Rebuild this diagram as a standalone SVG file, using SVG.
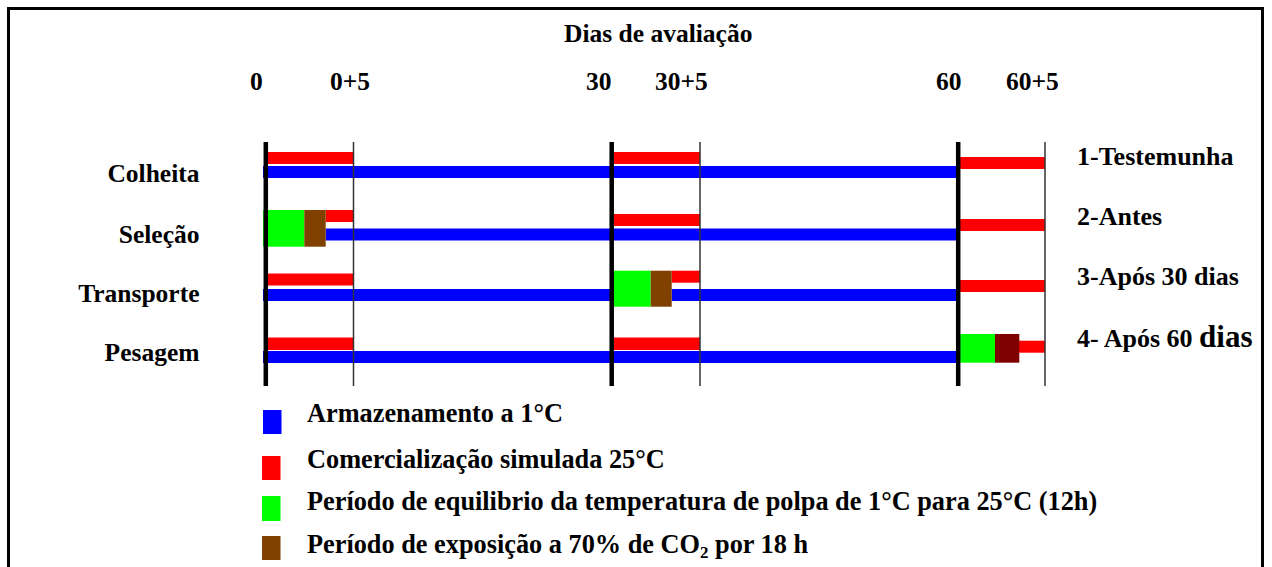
<svg xmlns="http://www.w3.org/2000/svg" width="1272" height="567" viewBox="0 0 1272 567">
<style>
text{font-family:"Liberation Serif","Times New Roman",serif;font-weight:bold;fill:#000}
.h{font-size:25.5px}
.l{font-size:25.5px;text-anchor:end}
.r{font-size:26px}
.g{font-size:26.3px}
.thick{stroke:#000;stroke-width:4.5}
.thin{stroke:#333;stroke-width:1.5}
.b{fill:#0000ff}
.rd{fill:#ff0000}
.gr{fill:#00ff00}
.br{fill:#804000}
.dr{fill:#7f0000}
</style>
<rect x="8.5" y="8.5" width="1254" height="600" fill="#fff" stroke="#000" stroke-width="3"/>
<g id="header">
<text class="h" x="564" y="42">Dias de avaliação</text>
<text class="h" x="250" y="90">0</text>
<text class="h" x="330" y="90">0+5</text>
<text class="h" x="586" y="90">30</text>
<text class="h" x="655" y="90">30+5</text>
<text class="h" x="936" y="90">60</text>
<text class="h" x="1006" y="90">60+5</text>
</g>
<g id="row-labels">
<text class="l" x="199.5" y="182">Colheita</text>
<text class="l" x="199.5" y="243">Seleção</text>
<text class="l" x="199.5" y="302">Transporte</text>
<text class="l" x="199.5" y="361">Pesagem</text>
</g>
<g id="treatment-labels">
<text class="r" x="1077" y="165">1-Testemunha</text>
<text class="r" x="1077" y="225">2-Antes</text>
<text class="r" x="1077" y="285">3-Após 30 dias</text>
<text class="r" x="1077" y="347">4- Após 60 <tspan font-size="31">dias</tspan></text>
</g>
<g id="row1">
<rect class="rd" x="268" y="152" width="85" height="12"/>
<rect class="rd" x="614" y="152" width="86" height="12"/>
<rect class="rd" x="960" y="157" width="85" height="12"/>
<rect class="b" x="263" y="166" width="695" height="12"/>
</g>
<g id="row2">
<rect class="rd" x="325.7" y="210" width="27.3" height="12"/>
<rect class="b" x="325.7" y="228.5" width="632.3" height="12"/>
<rect class="gr" x="263" y="210" width="41.3" height="36.7"/>
<rect class="br" x="304.3" y="210" width="21.4" height="36.7"/>
<rect class="rd" x="614" y="214" width="86" height="12"/>
<rect class="rd" x="960" y="219" width="85" height="12"/>
</g>
<g id="row3">
<rect class="rd" x="268" y="273.5" width="85" height="12"/>
<rect class="b" x="263" y="289" width="349" height="12"/>
<rect class="rd" x="671.7" y="270.7" width="28.3" height="12"/>
<rect class="b" x="671.7" y="289" width="286.3" height="12"/>
<rect class="gr" x="612" y="270.7" width="38.7" height="36"/>
<rect class="br" x="650.7" y="270.7" width="21" height="36"/>
<rect class="rd" x="960" y="280" width="85" height="12"/>
</g>
<g id="row4">
<rect class="rd" x="268" y="337.5" width="85" height="12.5"/>
<rect class="rd" x="614" y="337.5" width="86" height="12.5"/>
<rect class="b" x="263" y="351" width="695" height="12"/>
<rect class="rd" x="1019" y="340.7" width="26" height="12"/>
<rect class="gr" x="959" y="334" width="36" height="28.7"/>
<rect class="dr" x="995" y="334" width="24.3" height="28.7"/>
</g>
<g id="connectors">
<line class="thick" x1="265.8" y1="142" x2="265.8" y2="386"/>
<line class="thin" x1="353.5" y1="142" x2="353.5" y2="386"/>
<line class="thick" x1="611.7" y1="142" x2="611.7" y2="386"/>
<line class="thin" x1="700" y1="142" x2="700" y2="386"/>
<line class="thick" x1="958.2" y1="142" x2="958.2" y2="386"/>
<line class="thin" x1="1045" y1="142" x2="1045" y2="386"/>
</g>
<g id="legend">
<rect class="b" x="263" y="410" width="18.5" height="24"/>
<text class="g" x="307" y="422">Armazenamento a 1°C</text>
<rect class="rd" x="262" y="456" width="18.5" height="24"/>
<text class="g" x="307" y="468">Comercialização simulada 25°C</text>
<rect class="gr" x="262" y="496" width="18.5" height="25"/>
<text class="g" x="307" y="510">Período de equilibrio da temperatura de polpa de 1°C para 25°C (12h)</text>
<rect class="br" x="262" y="536" width="18.5" height="24"/>
<text class="g" x="307" y="553">Período de exposição a 70% de CO<tspan font-size="17" dy="5">2</tspan><tspan dy="-5"> por 18 h</tspan></text>
</g>
</svg>
